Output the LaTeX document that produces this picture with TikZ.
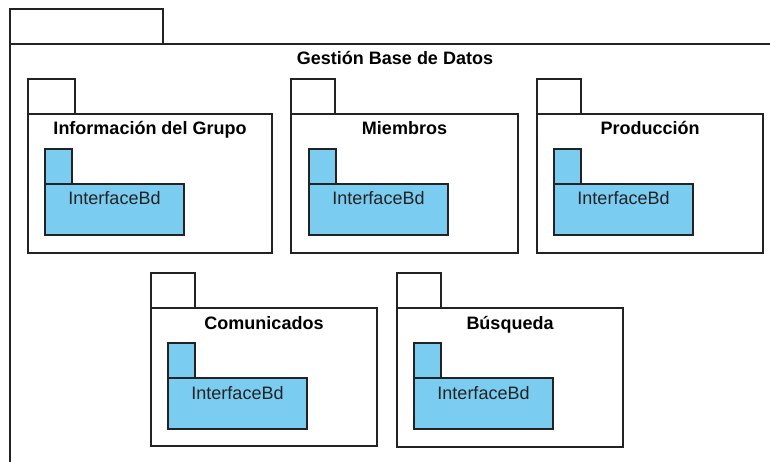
\documentclass[tikz,border=0pt]{standalone}
\usepackage{fontspec}
\setmainfont{Liberation Sans}
\usepackage{tikz}
\usetikzlibrary{positioning}
\definecolor{ifaceblue}{RGB}{122,204,240}
\definecolor{inkdark}{RGB}{35,35,35}

\begin{document}
\begin{tikzpicture}[x=1pt,y=-1pt,
  every node/.style={inner sep=0pt,outer sep=0pt},
  pkgbody/.style={draw=inkdark,line width=1.3pt,fill=white,anchor=north west,minimum width=226pt,minimum height=139pt},
  pkgtab/.style={draw=inkdark,line width=1.3pt,fill=white,anchor=south west,minimum width=44pt,minimum height=35pt},
  ifbody/.style={draw=inkdark,line width=1.3pt,fill=ifaceblue,minimum width=139pt,minimum height=51pt},
  iftab/.style={draw=inkdark,line width=1.3pt,fill=ifaceblue,minimum width=27pt,minimum height=35pt},
  pkgtitle/.style={anchor=base,font=\bfseries\fontsize{18}{20}\selectfont},
  iftext/.style={anchor=base,font=\fontsize{18}{20}\selectfont,text=inkdark}]
  \useasboundingbox (0,0) rectangle (770,462);
  \clip (0,0) rectangle (770,462);
  % outer package
  \node[pkgbody,minimum width=790pt,minimum height=440pt] (gest) at (10,44) {};
  \node[pkgtab,minimum width=153pt] (gesttab) at (gest.north west) {};
  \node[pkgtitle] (gestt) at ([yshift=-21pt]395,44) {Gestión Base de Datos};
  % inner packages
  \node[pkgbody,minimum width=244pt] (info) at (28,114) {};
  \node[pkgbody,minimum width=227pt] (miem) at (291,114) {};
  \node[pkgbody] (prod) at (537,114) {};
  \node[pkgbody,minimum height=138pt] (comu) at (151,308) {};
  \node[pkgbody] (busq) at (397,308) {};
  \node[pkgtab,minimum width=47pt] (infotab) at (info.north west) {};
  \node[pkgtab] (miemtab) at (miem.north west) {};
  \node[pkgtab] (prodtab) at (prod.north west) {};
  \node[pkgtab] (comutab) at (comu.north west) {};
  \node[pkgtab] (busqtab) at (busq.north west) {};
  \node[pkgtitle] (infot) at ([yshift=-21pt]info.north) {Información del Grupo};
  \node[pkgtitle] (miemt) at ([yshift=-21pt]miem.north) {Miembros};
  \node[pkgtitle] (prodt) at ([yshift=-21pt]prod.north) {Producción};
  \node[pkgtitle] (comut) at ([yshift=-21pt]comu.north) {Comunicados};
  \node[pkgtitle] (busqt) at ([yshift=-21pt]busq.north) {Búsqueda};
  % InterfaceBd in each package
  \node[ifbody,below right=70pt and 17pt of info.north west] (infoif) {};
  \node[ifbody,below right=70pt and 18pt of miem.north west] (miemif) {};
  \node[ifbody,below right=70pt and 17pt of prod.north west] (prodif) {};
  \node[ifbody,below right=70pt and 17pt of comu.north west] (comuif) {};
  \node[ifbody,below right=70pt and 17pt of busq.north west] (busqif) {};
  \node[iftab,above right=0pt and 0pt of infoif.north west] (infoiftab) {};
  \node[iftab,above right=0pt and 0pt of miemif.north west] (miemiftab) {};
  \node[iftab,above right=0pt and 0pt of prodif.north west] (prodiftab) {};
  \node[iftab,above right=0pt and 0pt of comuif.north west] (comuiftab) {};
  \node[iftab,above right=0pt and 0pt of busqif.north west] (busqiftab) {};
  \node[iftext] (infoift) at ([yshift=-21pt]infoif.north) {InterfaceBd};
  \node[iftext] (miemift) at ([yshift=-21pt]miemif.north) {InterfaceBd};
  \node[iftext] (prodift) at ([yshift=-21pt]prodif.north) {InterfaceBd};
  \node[iftext] (comuift) at ([yshift=-21pt]comuif.north) {InterfaceBd};
  \node[iftext] (busqift) at ([yshift=-21pt]busqif.north) {InterfaceBd};
\end{tikzpicture}
\end{document}
